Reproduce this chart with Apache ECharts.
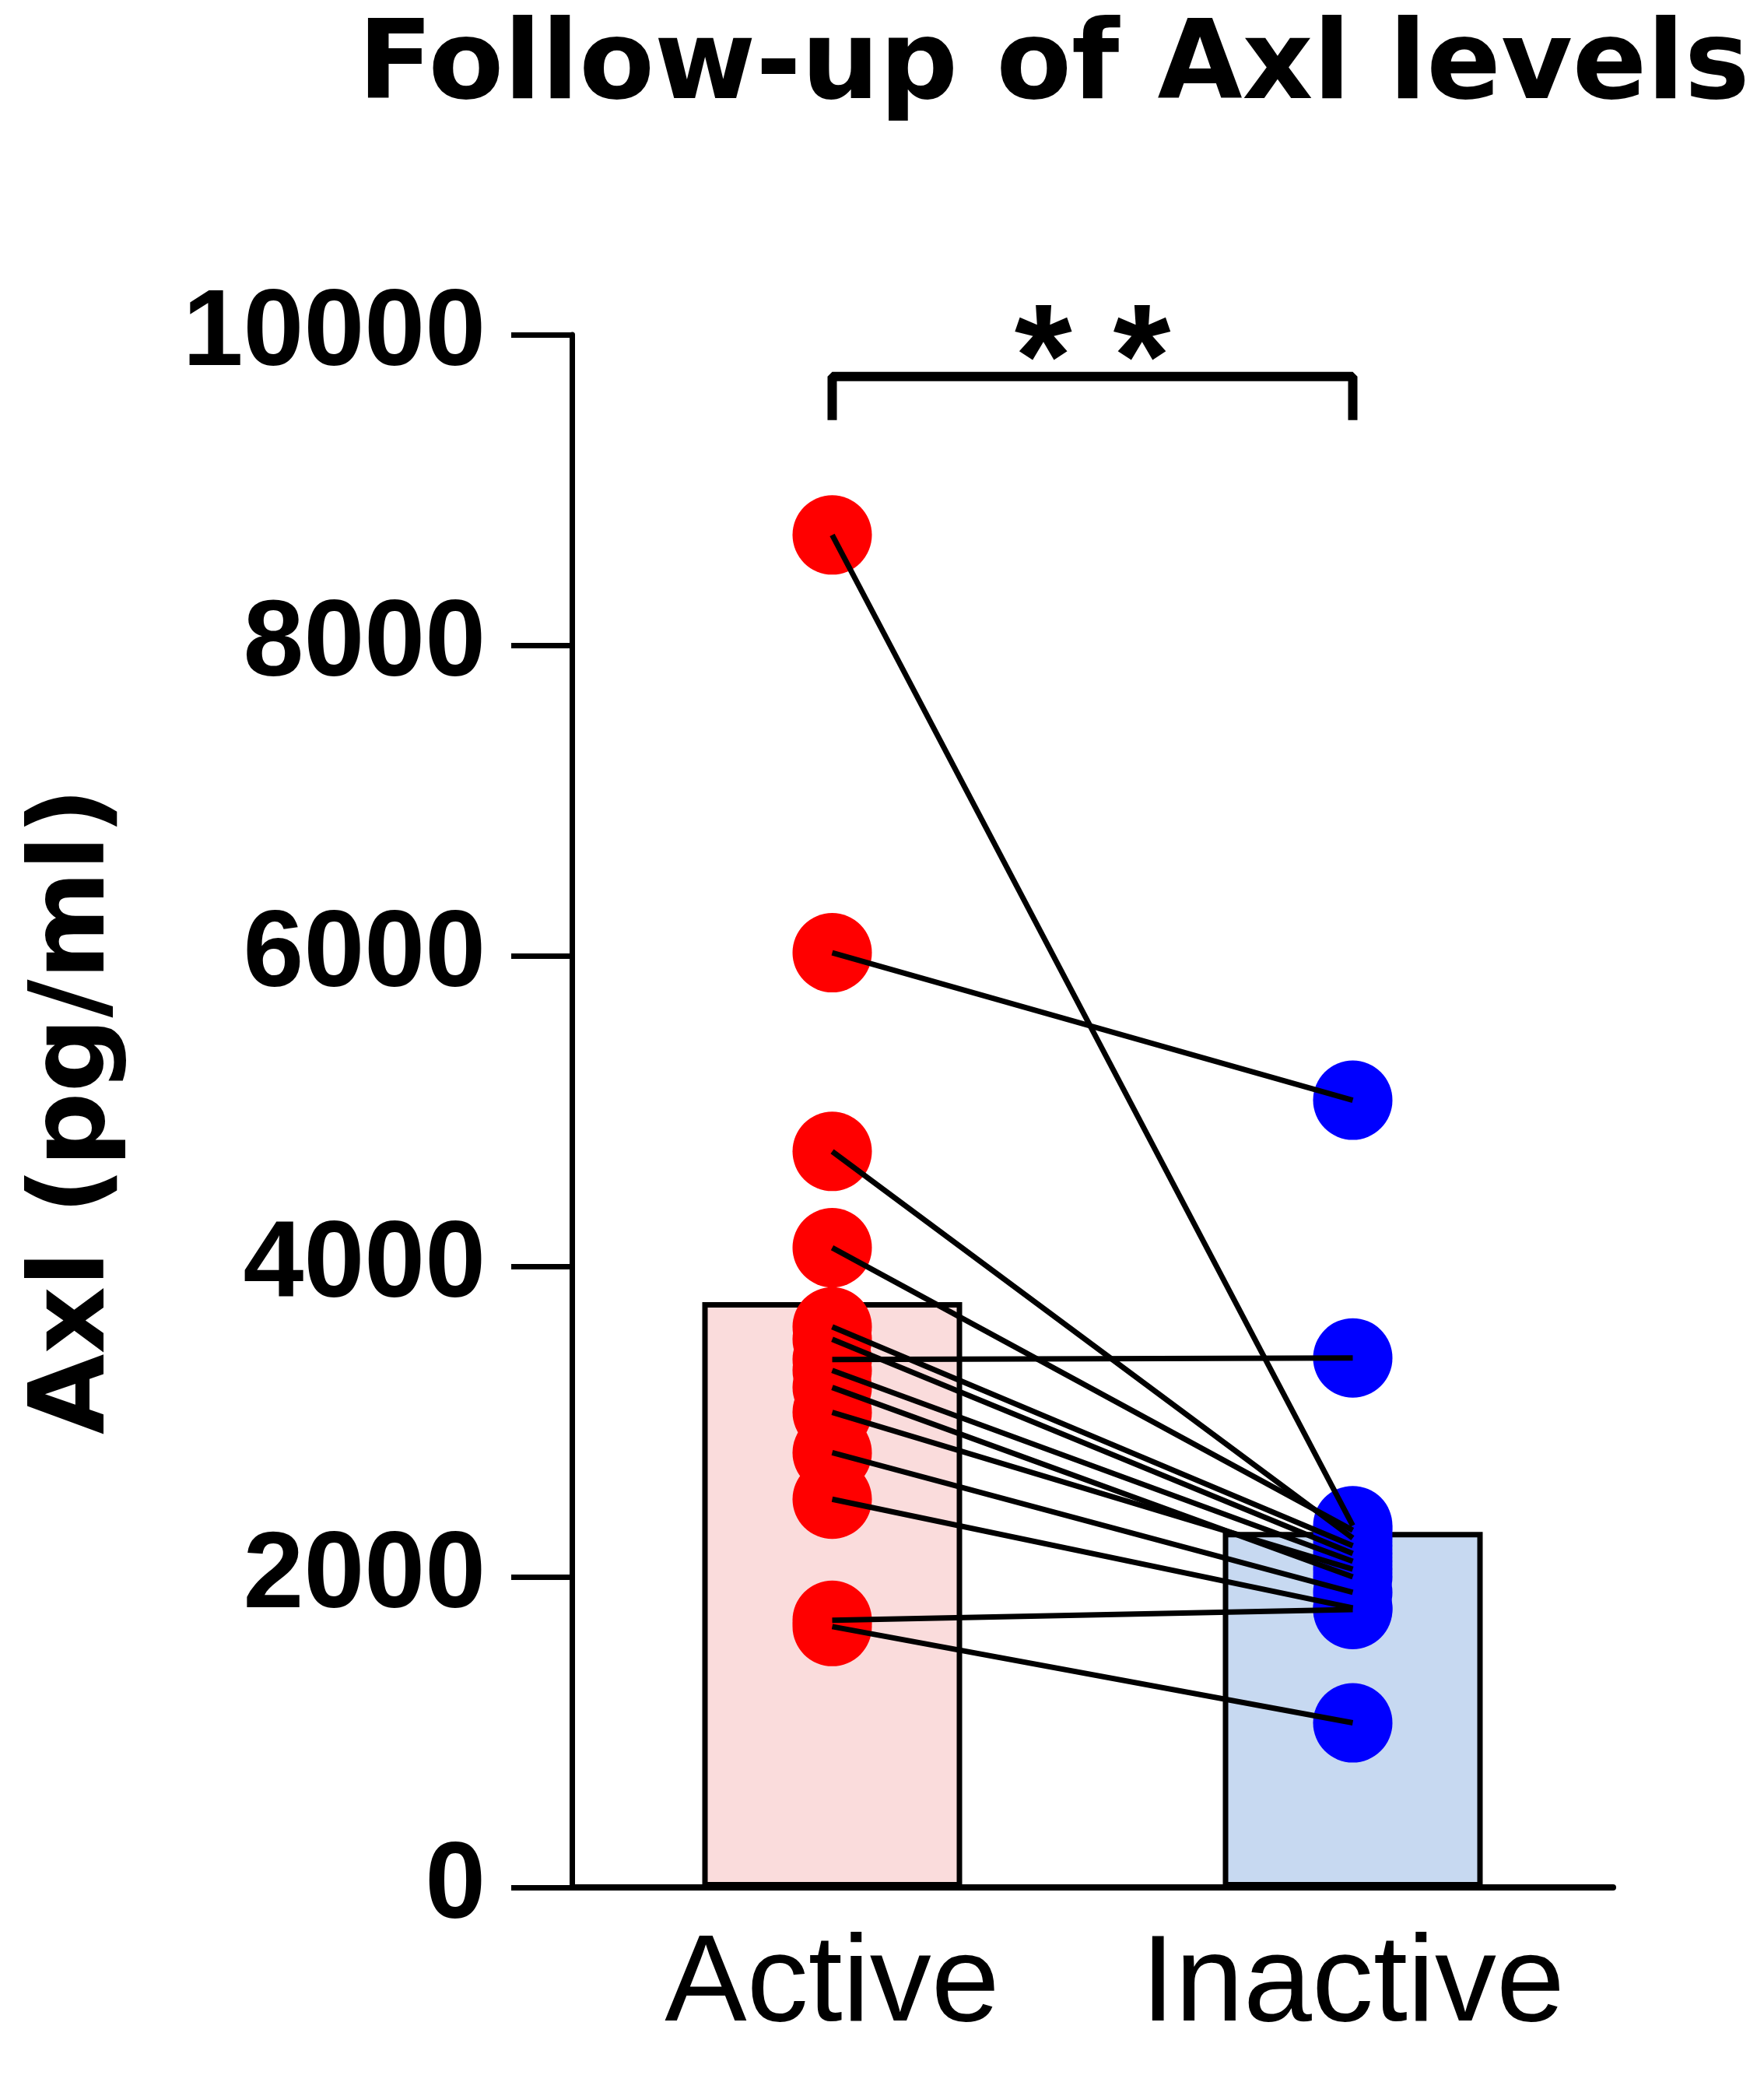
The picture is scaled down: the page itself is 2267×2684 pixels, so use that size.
<!DOCTYPE html>
<html>
<head>
<meta charset="utf-8">
<script src="https://cdn.jsdelivr.net/npm/echarts@6/dist/echarts.min.js"></script>
<style>
  html, body { margin: 0; padding: 0; background: #fff; }
  #chart { width: 2267px; height: 2684px; }
</style>
</head>
<body>
<div id="chart"></div>
<script>
const categories = ["Active", "Inactive"];
const activeValues = [8710, 6020, 4740, 4120, 3610, 3530, 3400, 3330, 3220, 3060, 2800, 2500, 1720, 1680];
const inactiveValues = [2330, 5070, 2250, 2300, 2200, 2150, 3410, 2100, 2000, 2050, 1900, 1800, 1790, 1060];
const barValues = [3770, 2290];
const barColors = ["#fadcdc", "#c7d9f1"];
const yTicks = { min: 0, max: 10000, interval: 2000 };
const bracket = { low: 9450, high: 9730, starsAt: 10000 };

const font = "'Liberation Sans', Arial, Helvetica, sans-serif";
const wideFont = "'DejaVu Sans', Verdana, sans-serif";

const chart = echarts.init(document.getElementById("chart"));

// one black segment per patient, drawn over the dots
const pairSeries = activeValues.map((a, i) => ({
  type: "line",
  data: [a, inactiveValues[i]],
  symbol: "none",
  z: 4,
  silent: true,
  lineStyle: { color: "#000", width: 7 },
}));

const option = {
  backgroundColor: "#fff",
  animation: false,
  title: {
    text: "Follow-up of Axl levels",
    left: 455,
    top: 14,
    textStyle: { fontFamily: wideFont, fontSize: 141, fontWeight: "bold", color: "#000" },
  },
  grid: { left: 735, right: 194, top: 430, bottom: 259 },
  xAxis: {
    type: "category",
    data: categories,
    axisLine: { lineStyle: { color: "#000", width: 8 } },
    axisTick: { alignWithLabel: true, length: 28, lineStyle: { color: "#000", width: 5 } },
    axisLabel: { interval: 0, color: "#000", fontFamily: font, fontSize: 158, margin: 48 },
    splitLine: { show: false },
  },
  yAxis: {
    type: "value",
    min: yTicks.min,
    max: yTicks.max,
    interval: yTicks.interval,
    name: "Axl (pg/ml)",
    nameLocation: "middle",
    nameRotate: 90,
    nameGap: 570,
    nameTextStyle: { color: "#000", fontFamily: wideFont, fontSize: 134, fontWeight: "bold" },
    axisLine: { show: true, lineStyle: { color: "#000", width: 7 } },
    axisTick: { show: true, length: 78, lineStyle: { color: "#000", width: 7 } },
    axisLabel: {
      color: "#000", fontFamily: font, fontSize: 140, fontWeight: "bold", margin: 111,
      formatter: v => String(v),
    },
    splitLine: { show: false },
  },
  series: [
    {
      type: "bar",
      barWidth: 334,
      z: 1,
      silent: true,
      data: barValues.map((v, i) => ({
        value: v,
        itemStyle: { color: barColors[i], borderColor: "#000", borderWidth: 7 },
      })),
    },
    {
      type: "scatter",
      z: 3,
      symbolSize: 102,
      itemStyle: { color: "#ff0000", opacity: 1 },
      data: activeValues.map(v => [0, v]),
    },
    {
      type: "scatter",
      z: 3,
      symbolSize: 102,
      itemStyle: { color: "#0000ff", opacity: 1 },
      data: inactiveValues.map(v => [1, v]),
    },
    ...pairSeries,
    {
      type: "line",
      z: 5,
      silent: true,
      symbol: "none",
      lineStyle: { color: "#000", width: 12 },
      data: [[0, bracket.low], [0, bracket.high], [1, bracket.high], [1, bracket.low]],
    },
  ],
};

chart.setOption(option);

// significance stars centred above the bracket
const left = chart.convertToPixel({ gridIndex: 0 }, [0, bracket.starsAt]);
const right = chart.convertToPixel({ gridIndex: 0 }, [1, bracket.starsAt]);
chart.setOption({
  graphic: [{
    type: "text",
    x: (left[0] + right[0]) / 2,
    y: left[1] + 40,
    style: {
      text: "* *",
      fill: "#000",
      font: "bold 190px " + font,
      textAlign: "center",
      textVerticalAlign: "middle",
    },
  }],
});
window.addEventListener("resize", () => chart.resize());
</script>
</body>
</html>
